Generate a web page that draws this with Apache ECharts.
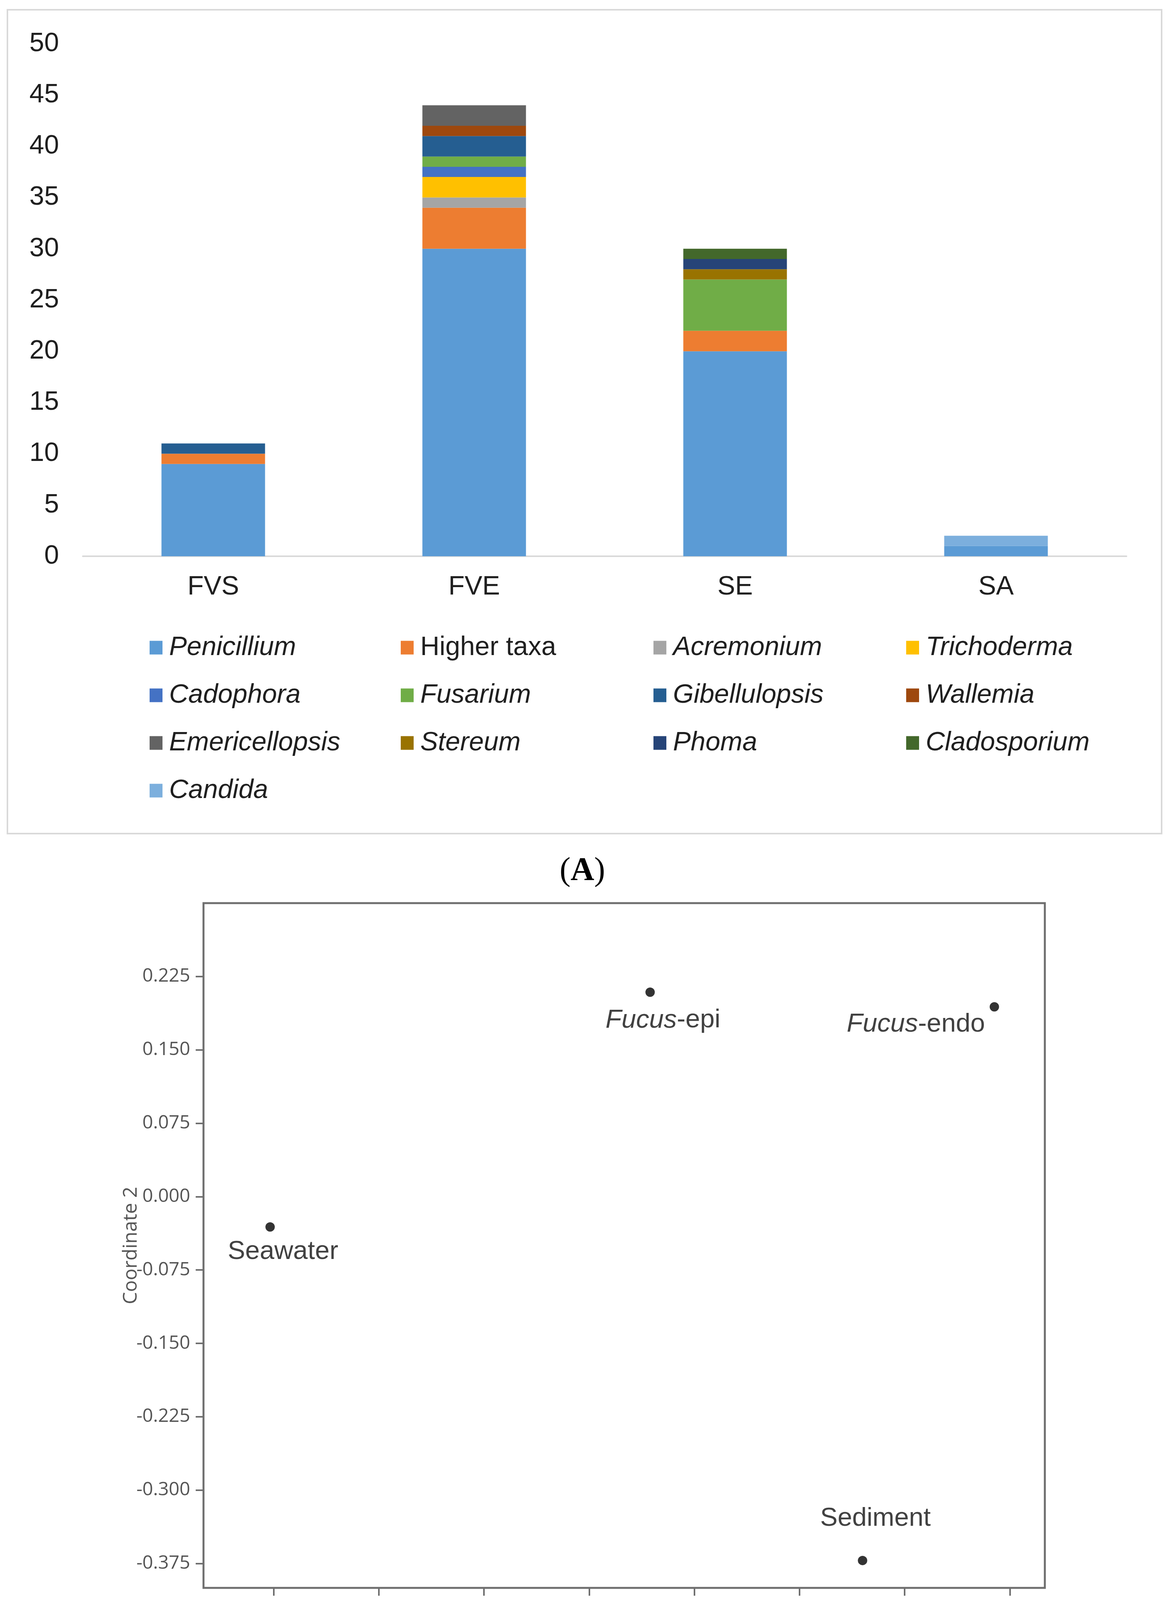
<!DOCTYPE html>
<html><head><meta charset="utf-8">
<style>html,body{margin:0;padding:0;background:#fff}#chart{width:2998px;height:4373px}</style>
<script src="https://cdn.jsdelivr.net/npm/echarts@6/dist/echarts.min.js"></script>
</head><body><div id="chart"></div>
<script>
// ---- Panel A data ----
const categories = ['FVS', 'FVE', 'SE', 'SA'];
const penicillium    = [9, 30, 20, 1];
const higherTaxa     = [1, 4, 2, 0];
const acremonium     = [0, 1, 0, 0];
const trichoderma    = [0, 2, 0, 0];
const cadophora      = [0, 1, 0, 0];
const fusarium       = [0, 1, 5, 0];
const gibellulopsis  = [1, 2, 0, 0];
const wallemia       = [0, 1, 0, 0];
const emericellopsis = [0, 2, 0, 0];
const stereum        = [0, 0, 1, 0];
const phoma          = [0, 0, 1, 0];
const cladosporium   = [0, 0, 1, 0];
const candida        = [0, 0, 0, 1];
const taxaNames = ['Penicillium','Higher taxa','Acremonium','Trichoderma','Cadophora','Fusarium','Gibellulopsis','Wallemia','Emericellopsis','Stereum','Phoma','Cladosporium','Candida'];
const taxaValues = [penicillium, higherTaxa, acremonium, trichoderma, cadophora, fusarium, gibellulopsis, wallemia, emericellopsis, stereum, phoma, cladosporium, candida];

// ---- Panel B data ----
const sampleNames = ['Seawater', 'Fucus-epi', 'Fucus-endo', 'Sediment'];
const coord1 = [-0.605, -0.063, 0.428, 0.240];
const coord2 = [-0.031, 0.209, 0.194, -0.372];
const coord1Ticks = [-0.60, -0.45, -0.30, -0.15, 0.00, 0.15, 0.30, 0.45];
const coord2Ticks = [-0.375, -0.300, -0.225, -0.150, -0.075, 0.000, 0.075, 0.150, 0.225];

// ---- styles ----
const taxaColors = ['#5B9BD5','#ED7D31','#A5A5A5','#FFC000','#4472C4','#70AD47','#255E91','#9E480E','#636363','#997300','#264478','#43682B','#7CAFDD'];
const labelOffsets = [[33, 64], [33, 72], [-201, 45], [33, -107]];
const legendColumns = [
  ['Penicillium','Cadophora','Emericellopsis','Candida'],
  ['Higher taxa','Fusarium','Stereum'],
  ['Acremonium','Gibellulopsis','Phoma'],
  ['Trichoderma','Wallemia','Cladosporium']
];
const legendLefts = [383, 1026, 1673, 2320];

const SANS = 'Liberation Sans, Arial, sans-serif';
const TICKF = 'Open Sans, DejaVu Sans, sans-serif';
const txt = '#1f1f1f';

const legends = legendColumns.map((col, i) => ({
  data: col,
  orient: 'vertical',
  left: legendLefts[i],
  top: 1623,
  padding: 0,
  itemGap: 52,
  itemWidth: 33,
  itemHeight: 35,
  icon: 'rect',
  selectedMode: false,
  formatter: n => n === 'Higher taxa' ? '{n|' + n + '}' : '{i|' + n + '}',
  textStyle: {
    fontSize: 68, fontFamily: SANS, color: txt, lineHeight: 70,
    rich: {
      i: { fontSize: 68, fontFamily: SANS, color: txt, fontStyle: 'italic', padding: [0, 0, 0, 12], lineHeight: 70 },
      n: { fontSize: 68, fontFamily: SANS, color: txt, padding: [0, 0, 0, 12], lineHeight: 70 }
    }
  }
}));

const barSeries = taxaNames.map((name, i) => ({
  name: name,
  type: 'bar',
  stack: 'total',
  xAxisIndex: 0, yAxisIndex: 0,
  barWidth: '39.7%',
  itemStyle: { color: taxaColors[i] },
  data: taxaValues[i]
}));

const scatterData = sampleNames.map((n, i) => ({
  name: n,
  value: [coord1[i], coord2[i]],
  label: { offset: labelOffsets[i] }
}));

const richLabel = {
  i: { fontSize: 67, fontFamily: SANS, color: '#111', fontStyle: 'italic' },
  n: { fontSize: 67, fontFamily: SANS, color: '#111' }
};

const option = {
  animation: false,
  backgroundColor: '#fff',
  grid: [
    { left: 212, top: 112, width: 2672, height: 1312 },
    { left: 521, top: 2312, width: 2154, height: 1753, show: true, borderColor: '#6e6e6e', borderWidth: 5, backgroundColor: 'transparent' }
  ],
  legend: legends,
  xAxis: [
    {
      type: 'category', gridIndex: 0, data: categories,
      axisTick: { show: false },
      axisLine: { lineStyle: { color: '#d9d9d9', width: 4 } },
      axisLabel: { fontSize: 68, fontFamily: SANS, color: txt, margin: 45 }
    },
    {
      type: 'value', gridIndex: 1, min: -0.70, max: 0.50,
      splitLine: { show: false },
      axisLine: { show: false, onZero: false },
      axisTick: { show: true, length: 20, customValues: coord1Ticks, lineStyle: { color: '#6e6e6e', width: 4 } },
      axisLabel: { customValues: coord1Ticks, fontSize: 48, fontFamily: TICKF, color: '#555', margin: 34, formatter: v => v.toFixed(2) },
      name: 'Coordinate 1', nameLocation: 'middle', nameGap: 105, nameMoveOverlap: false,
      nameTextStyle: { fontSize: 50, fontFamily: TICKF, color: '#555' }
    }
  ],
  yAxis: [
    {
      type: 'value', gridIndex: 0, min: 0, max: 50, interval: 5,
      axisLine: { show: false }, axisTick: { show: false }, splitLine: { show: false },
      axisLabel: { fontSize: 68, fontFamily: SANS, color: txt, margin: 61 }
    },
    {
      type: 'value', gridIndex: 1, min: -0.40, max: 0.30,
      splitLine: { show: false },
      axisLine: { show: false, onZero: false },
      axisTick: { show: true, length: 20, customValues: coord2Ticks, lineStyle: { color: '#6e6e6e', width: 4 } },
      axisLabel: { customValues: coord2Ticks, fontSize: 48, fontFamily: TICKF, color: '#555', margin: 34, formatter: v => v.toFixed(3) },
      name: 'Coordinate 2', nameLocation: 'middle', nameRotate: 90, nameGap: 160, nameMoveOverlap: false,
      nameTextStyle: { fontSize: 50, fontFamily: TICKF, color: '#555' }
    }
  ],
  series: barSeries.concat([{
    name: 'MDS',
    type: 'scatter',
    xAxisIndex: 1, yAxisIndex: 1,
    symbol: 'circle', symbolSize: 24,
    itemStyle: { color: '#000' },
    label: {
      show: true, position: 'inside', align: 'center', verticalAlign: 'middle',
      fontSize: 67, fontFamily: SANS, color: '#111',
      formatter: p => p.name.indexOf('Fucus') === 0 ? '{i|Fucus}{n|' + p.name.slice(5) + '}' : '{n|' + p.name + '}',
      rich: richLabel
    },
    data: scatterData
  }]),
  graphic: [
    { type: 'rect', shape: { x: 19, y: 25, width: 2955, height: 2109 }, style: { fill: 'none', stroke: '#d9d9d9', lineWidth: 4 }, silent: true },
    { type: 'text', x: 1491, y: 2231, style: { text: '{p|(}{b|A}{p|)}', align: 'center', verticalAlign: 'middle',
      rich: { p: { fontSize: 84, fontFamily: 'Liberation Serif, Times New Roman, serif', fill: '#000' }, b: { fontSize: 84, fontWeight: 'bold', fontFamily: 'Liberation Serif, Times New Roman, serif', fill: '#000' } } } },
    { type: 'text', x: 1491, y: 4320, style: { text: '{p|(}{b|B}{p|)}', align: 'center', verticalAlign: 'middle',
      rich: { p: { fontSize: 84, fontFamily: 'Liberation Serif, Times New Roman, serif', fill: '#000' }, b: { fontSize: 84, fontWeight: 'bold', fontFamily: 'Liberation Serif, Times New Roman, serif', fill: '#000' } } } }
  ]
};

const chart = echarts.init(document.getElementById('chart'), null, { renderer: 'canvas' });
chart.setOption(option);
</script>
</body></html>
